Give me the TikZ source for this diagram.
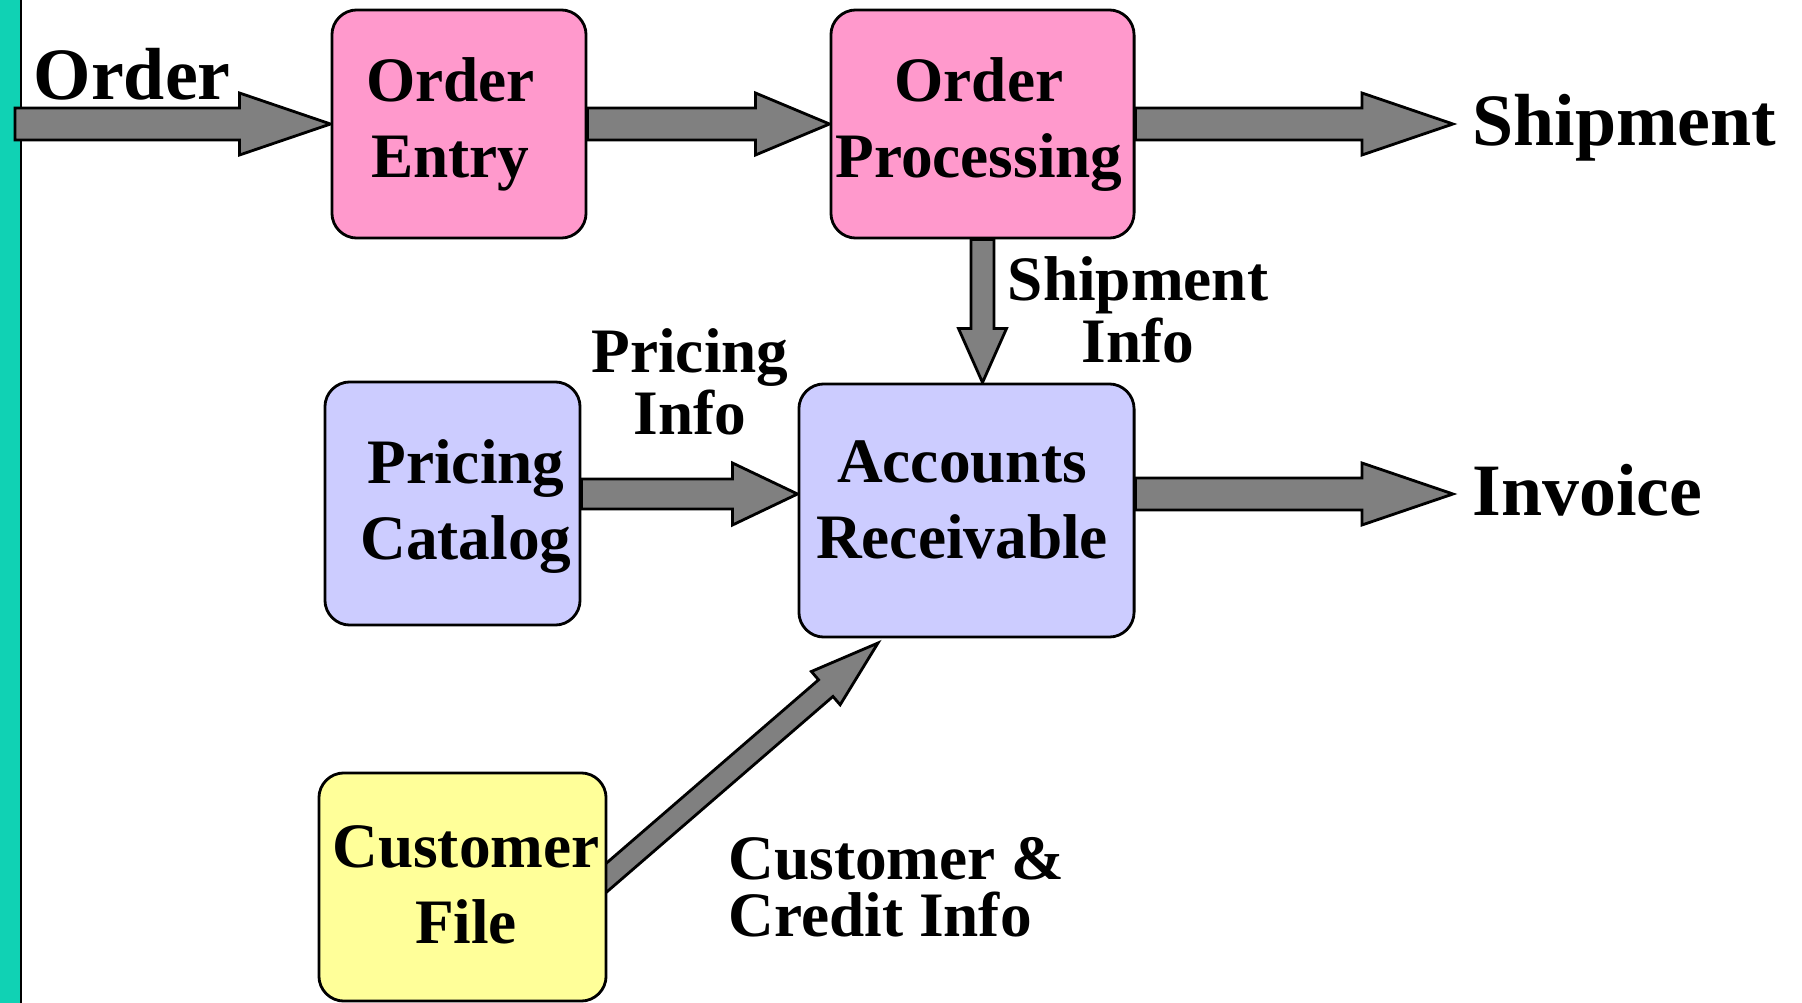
\documentclass[tikz,border=0pt]{standalone}
\usepackage{fontspec}
\setmainfont{Liberation Serif}
\usetikzlibrary{calc,backgrounds}

\definecolor{entrypink}{HTML}{FF99CC}
\definecolor{recvblue}{HTML}{CCCCFF}
\definecolor{fileyellow}{HTML}{FFFF99}
\definecolor{flowgray}{HTML}{808080}
\definecolor{barteal}{HTML}{10D2B4}

\newcommand{\procfont}{\fontsize{18}{21.6}\selectfont\bfseries}
\newcommand{\infofont}{\fontsize{18}{16}\selectfont\bfseries}
\newcommand{\iofont}{\fontsize{21}{25}\selectfont\bfseries}
\newcommand{\textdrop}{0pt}
\newcommand{\textshift}{0pt}

\tikzset{
	shaftw/.store in=\shaftw, headw/.store in=\headw, headl/.store in=\headl,
	shaftw=0.16cm, headw=0.31cm, headl=0.91cm,
	textdrop/.code={\renewcommand{\textdrop}{#1}},
	textshift/.code={\renewcommand{\textshift}{#1}},
	flow/.style={draw=black, fill=flowgray, line width=0.8pt, line join=miter,
		to path={let \p1=(\tikztostart), \p2=(\tikztotarget),
			\p3=($(\p2)!\headl!(\p1)$), \n1={atan2(\y2-\y1,\x2-\x1)} in
			($(\p1)+({\n1+90}:\shaftw)$) -- ($(\p3)+({\n1+90}:\shaftw)$)
			-- ($(\p3)+({\n1+90}:\headw)$) -- (\p2)
			-- ($(\p3)+({\n1-90}:\headw)$) -- ($(\p3)+({\n1-90}:\shaftw)$)
			-- ($(\p1)+({\n1-90}:\shaftw)$) -- cycle}},
	proc/.style={draw=black, line width=0.8pt, rounded corners=0.25cm, inner sep=0pt,
		align=center, font=\procfont,
		execute at begin node={\kern\dimexpr2\dimexpr\textshift\relax\relax
			\rule{0pt}{\dimexpr1.7\baselineskip+\textdrop\relax}},
		execute at end node=\strut},
	info/.style={inner sep=0pt, font=\infofont},
	io/.style={inner sep=0pt, font=\iofont},
}

\begin{document}
\begin{tikzpicture}[x=0.01cm, y=-0.01cm]
			\useasboundingbox (0,0) rectangle (1802,1003);
			% the five processes and files
			\node[proc, fill=entrypink, textshift=-0.085cm, minimum width=2.54cm, minimum height=2.28cm] (entry) at (459,124) {Order\\Entry};
			\node[proc, fill=entrypink, textshift=-0.035cm, minimum width=3.03cm, minimum height=2.28cm] (proc) at (982.5,124) {Order\\Processing};
			\node[proc, fill=recvblue, textshift=0.135cm, textdrop=0.05cm, minimum width=2.55cm, minimum height=2.43cm] (catalog) at (452.5,503.5) {Pricing\\Catalog};
			\node[proc, fill=recvblue, textshift=-0.045cm, textdrop=-0.11cm, minimum width=3.35cm, minimum height=2.53cm] (recv) at (966.5,510.5) {Accounts\\Receivable};
			\node[proc, fill=fileyellow, textshift=0.035cm, textdrop=0.06cm, minimum width=2.87cm, minimum height=2.28cm] (custfile) at (462.5,887) {Customer\\File};
			% labels
			\node[io, anchor=base west] (orderlbl) at (33,100) {Order};
			\node[io, anchor=base west] (shiplbl) at (1472,145) {Shipment};
			\node[io, anchor=base west] (invlbl) at (1472,515) {Invoice};
			\node[info, align=center, anchor=north] (shipinfo) at (1138,256) {Shipment\\Info};
			\node[info, align=center, anchor=north] (priceinfo) at (690,328) {Pricing\\Info};
			\node[info, align=left, anchor=north west] (credinfo) at (728,837) {Customer \&\\Credit Info};
			% free ends
			\coordinate (orderin) at (15,124);
			\coordinate (shipout) at (1453,124);
			\coordinate (invout) at (1453,494);
			\coordinate (rowb) at (0,494);
			\coordinate (cftail) at (591,891);
			\coordinate (credtip) at (878,643);
			\begin{pgfonlayer}{background}
				\fill[barteal] (0,0) rectangle (20,1003);
				\draw[line width=0.6pt] (21,0) -- (21,1003);
				\draw[flow] (orderin) to (entry.west);
				\draw[flow, headl=0.74cm] (entry.east) to (proc.west);
				\draw[flow] (proc.east) to (shipout);
				\draw[flow, shaftw=0.115cm, headw=0.24cm, headl=0.54cm] (proc.south) to (proc.south |- recv.north);
				\draw[flow, shaftw=0.15cm, headl=0.65cm] (catalog.east |- rowb) to (recv.west |- rowb);
				\draw[flow] (recv.east |- rowb) to (invout);
				\draw[flow, shaftw=0.11cm, headw=0.22cm, headl=0.69cm] (cftail) to (credtip);
			\end{pgfonlayer}
\end{tikzpicture}
\end{document}
